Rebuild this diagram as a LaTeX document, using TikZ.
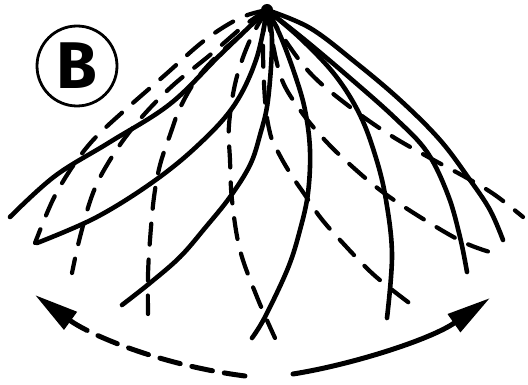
\documentclass[tikz,border=0pt]{standalone}
\usepackage{fontspec}
\newfontfamily\badgefont{Fira Sans}
\usetikzlibrary{arrows.meta}
\begin{document}
\begin{tikzpicture}[x=1pt, y=-1pt,
    fansolid/.style={line width=4.6pt, line cap=round},
    fandash/.style={line width=4.2pt, line cap=round, dash pattern=on 21pt off 15pt},
    swing/.style={line width=5pt, line cap=round, -{Triangle[length=44pt, width=21pt]}}]
    \useasboundingbox (0,0) rectangle (528,385);
    \coordinate (apex) at (267,10);

    \node[draw, circle, line width=2.8pt, minimum size=80pt, inner sep=0pt] (badge) at (77,66)
        {\badgefont\bfseries\fontsize{66}{66}\selectfont B};

    % solid positions
    \draw[fansolid] plot[smooth, tension=0.6] coordinates {(apex) (220,55) (170,104) (110,142) (55,176) (10,217)};
    \draw[fansolid] plot[smooth, tension=0.6] coordinates {(apex) (256,60) (233,107) (195,148) (150,184) (95,218) (37,243)};
    \draw[fansolid] plot[smooth, tension=0.6] coordinates {(apex) (272,40) (268,100) (260,135) (250,165) (230,197) (205,228) (180,257) (150,283) (122,305)};
    \draw[fansolid] plot[smooth, tension=0.6] coordinates {(apex) (280,35) (295,75) (305,110) (310,150) (308,193) (300,230) (288,268) (265,317) (252,338)};
    \draw[fansolid] plot[smooth, tension=0.6] coordinates {(apex) (300,38) (335,75) (360,115) (376,158) (386,200) (392,255) (387,318)};
    \draw[fansolid] plot[smooth, tension=0.6] coordinates {(apex) (305,40) (350,78) (395,118) (427,152) (448,195) (460,237) (467,272)};
    \draw[fansolid] plot[smooth, tension=0.6] coordinates {(apex) (310,28) (355,62) (400,100) (440,140) (470,180) (490,210) (503,240)};

    % dashed positions
    \draw[fandash] plot[smooth, tension=0.6] coordinates {(apex) (240,18) (205,40) (165,75) (125,110) (95,138) (75,163) (58,190) (47,213) (35,243)};
    \draw[fandash] plot[smooth, tension=0.6] coordinates {(apex) (245,25) (210,55) (170,88) (135,125) (110,160) (93,193) (80,237) (72,273)};
    \draw[fandash] plot[smooth, tension=0.6] coordinates {(apex) (243,33) (218,55) (196,80) (180,108) (170,135) (160,165) (154,197) (150,240) (148,275) (148,314)};
    \draw[fandash] plot[smooth, tension=0.6] coordinates {(apex) (250,40) (236,80) (229,125) (230,160) (232,200) (240,250) (257,297) (275,338)};
    \draw[fandash] plot[smooth, tension=0.6] coordinates {(apex) (263,40) (265,100) (270,133) (277,150) (290,173) (305,195) (320,217) (340,240) (374,275) (412,305)};
    \draw[fandash] plot[smooth, tension=0.6] coordinates {(apex) (272,40) (282,80) (300,110) (322,137) (345,160) (380,190) (420,217) (463,242) (493,253)};
    \draw[fandash] plot[smooth, tension=0.6] coordinates {(apex) (285,40) (312,75) (350,107) (390,135) (430,158) (467,178) (495,195) (523,217)};

    \fill (apex) circle[radius=6];

    % swing arrows
    \draw[swing, dash pattern=on 21pt off 12pt] (245,376) .. controls (160,365) and (90,335) .. (35,295);
    \draw[swing] (293,374) .. controls (350,365) and (430,340) .. (490,298);
\end{tikzpicture}
\end{document}
